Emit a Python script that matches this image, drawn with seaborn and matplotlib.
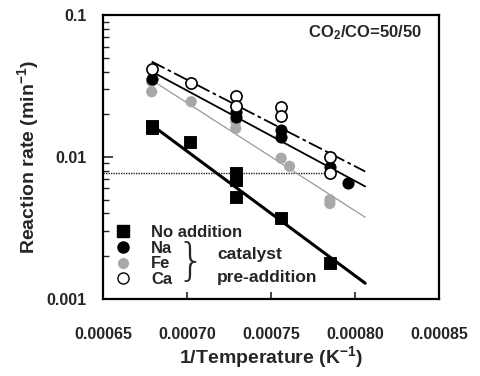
import numpy as np
import pandas as pd
import matplotlib
matplotlib.use("Agg")
import matplotlib.pyplot as plt
from matplotlib.lines import Line2D
import seaborn as sns

# ---- data ----
x_no = [0.000679, 0.000679, 0.000702, 0.000729, 0.000729, 0.000729, 0.000756, 0.000785]
y_no = [0.0165, 0.0160, 0.0128, 0.0077, 0.0069, 0.0052, 0.0037, 0.0018]

x_na = [0.000679, 0.000729, 0.000729, 0.000756, 0.000756, 0.000785, 0.000796]
y_na = [0.0354, 0.0208, 0.0192, 0.0155, 0.0139, 0.0085, 0.0066]

x_fe = [0.000679, 0.000679, 0.0007025, 0.000729, 0.000729, 0.000756, 0.000761, 0.000785, 0.000785]
y_fe = [0.0340, 0.0288, 0.0245, 0.0178, 0.0159, 0.0098, 0.0086, 0.0050, 0.0047]

x_ca = [0.000679, 0.0007025, 0.000729, 0.000729, 0.000756, 0.000756, 0.000785, 0.000785]
y_ca = [0.0414, 0.0330, 0.0270, 0.0229, 0.0224, 0.0195, 0.0100, 0.0077]

# fitted lines (endpoints)
fit_x = [0.000679, 0.000806]
fit_no = [0.0168, 0.00129]
fit_na = [0.0400, 0.0062]
fit_fe = [0.0348, 0.00376]
fit_ca = [0.0470, 0.0079]

# horizontal dotted reference
ref_x = [0.00065, 0.000785]
ref_y = [0.0077, 0.0077]

xticks = [0.00065, 0.00070, 0.00075, 0.00080, 0.00085]
xtick_labels = ["0.00065", "0.00070", "0.00075", "0.00080", "0.00085"]
yticks = [0.001, 0.01, 0.1]
ytick_labels = ["0.001", "0.01", "0.1"]

sns.set_theme(style="white")
plt.rcParams['font.family'] = ['Liberation Sans', 'DejaVu Sans']
plt.rcParams['mathtext.fontset'] = 'custom'
plt.rcParams['mathtext.rm'] = 'Liberation Sans:bold'
plt.rcParams['mathtext.it'] = 'Liberation Sans:bold'
plt.rcParams['mathtext.bf'] = 'Liberation Sans:bold'

fig = plt.figure(figsize=(4.81, 3.76), dpi=100)
ax = fig.add_axes([0.214, 0.205, 0.699, 0.755])

# lines
sns.lineplot(x=ref_x, y=ref_y, ax=ax, color="#222222", lw=1.0, linestyle=(0, (1, 0.8)))
sns.lineplot(x=fit_x, y=fit_fe, ax=ax, color="#9a9a9a", lw=0.9)
sns.lineplot(x=fit_x, y=fit_na, ax=ax, color="black", lw=1.3)
sns.lineplot(x=fit_x, y=fit_ca, ax=ax, color="black", lw=1.3, linestyle=(0, (8, 2, 2, 2)))
sns.lineplot(x=fit_x, y=fit_no, ax=ax, color="black", lw=2.2)

# points
ms = 65
sns.scatterplot(x=x_fe, y=y_fe, ax=ax, marker="o", s=ms, color="#a8a8a8", edgecolor="none", zorder=3)
sns.scatterplot(x=x_na, y=y_na, ax=ax, marker="o", s=ms, color="black", edgecolor="black", zorder=4)
sns.scatterplot(x=x_ca, y=y_ca, ax=ax, marker="o", s=ms, facecolor="white", edgecolor="black", linewidth=1.2, zorder=5)
sns.scatterplot(x=x_no, y=y_no, ax=ax, marker="s", s=65, color="black", edgecolor="black", zorder=4)

ax.set_yscale("log")
ax.set_xlim(0.00065, 0.00085)
ax.set_ylim(0.001, 0.1)
ax.set_xticks(xticks)
ax.set_xticklabels(xtick_labels, fontsize=11.5, fontweight="bold")
ax.set_yticks(yticks)
ax.set_yticklabels(ytick_labels, fontsize=11.5, fontweight="bold")
ax.yaxis.set_minor_locator(matplotlib.ticker.LogLocator(base=10, subs=np.arange(2, 10)))
ax.yaxis.set_minor_formatter(matplotlib.ticker.NullFormatter())
ax.tick_params(axis="x", which="major", direction="in", length=5, width=1.2, pad=20, bottom=True, top=False)
ax.tick_params(axis="y", which="major", direction="in", length=7, width=1.2, pad=12, left=True, right=False)
ax.tick_params(axis="y", which="minor", direction="in", length=4, width=1.0, left=True, right=False)
for sp in ax.spines.values():
    sp.set_linewidth(1.6)
    sp.set_color("black")

ax.set_xlabel("1/Temperature (K$^{-1}$)", fontsize=14, fontweight="bold", labelpad=2)
ax.set_ylabel("Reaction rate (min$^{-1}$)", fontsize=14, fontweight="bold", labelpad=4)

ax.text(0.78, 0.937, "CO$_2$/CO=50/50", transform=ax.transAxes, ha="center", va="center",
        fontsize=12, fontweight="bold")

handles = [
    Line2D([], [], marker="s", color="black", linestyle="none", markersize=8),
    Line2D([], [], marker="o", color="black", linestyle="none", markersize=8),
    Line2D([], [], marker="o", color="#a8a8a8", markeredgecolor="none", linestyle="none", markersize=8),
    Line2D([], [], marker="o", markerfacecolor="white", markeredgecolor="black", linestyle="none", markersize=8),
]
labels = ["No addition", "Na", "Fe", "Ca"]
leg = ax.legend(handles, labels, loc="lower left", bbox_to_anchor=(0.0, 0.0), frameon=False,
                prop={"weight": "bold", "size": 12}, handlelength=1.0, handletextpad=1.2,
                labelspacing=0.05, borderaxespad=0.3)

ax.text(0.26, 0.13, "}", transform=ax.transAxes, ha="center", va="center", fontsize=32,
        fontweight="light", family="DejaVu Sans")
ax.text(0.34, 0.155, "catalyst", transform=ax.transAxes, ha="left", va="center", fontsize=12.5,
        fontweight="bold")
ax.text(0.34, 0.074, "pre-addition", transform=ax.transAxes, ha="left", va="center", fontsize=12.5,
        fontweight="bold")

fig.savefig("out.png", dpi=100)
